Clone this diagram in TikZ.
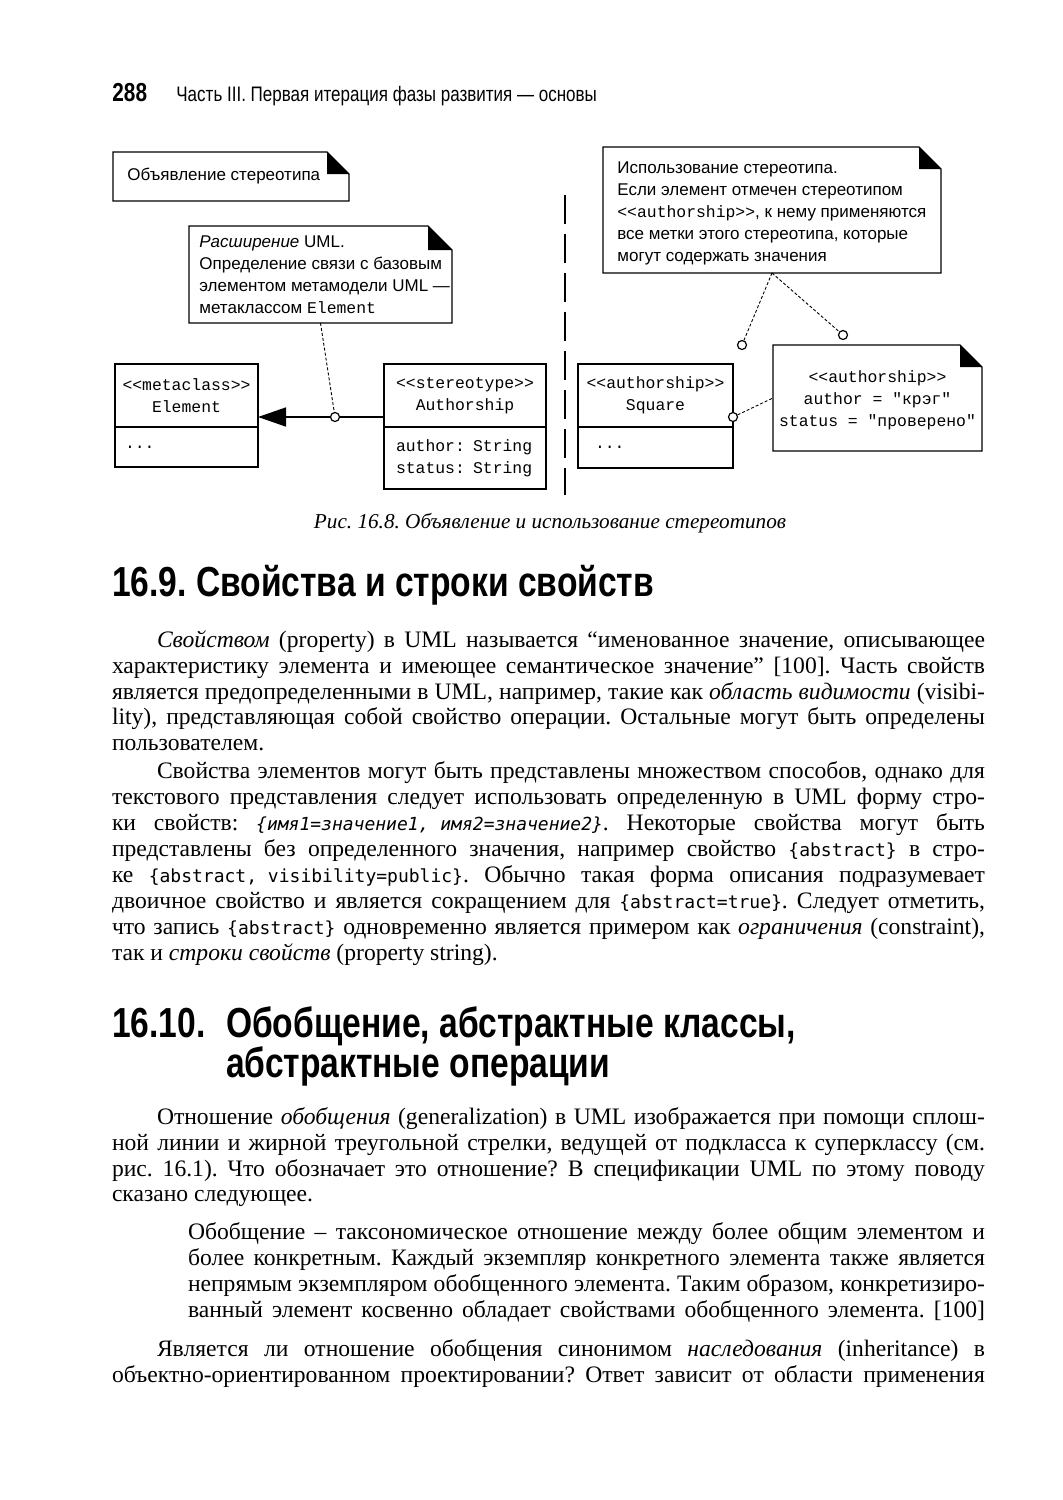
\documentclass[tikz,border=0pt]{standalone}
\usepackage{fontspec}
\setmainfont{Liberation Serif}
\setsansfont{Liberation Sans}
\setmonofont{Liberation Mono}
\newfontfamily\hfont[FakeStretch=0.8]{Liberation Sans}
\newfontfamily\rfont[FakeStretch=0.81]{Liberation Sans}
\newfontfamily\bodymono{DejaVu Sans Mono}
\usetikzlibrary{arrows.meta}

\newcommand\JF[1]{\makebox[436.5pt][s]{#1}}
\newcommand\JI[1]{\makebox[414pt][s]{#1}}
\newcommand\JQ[1]{\makebox[398.5pt][s]{#1}}
\newcommand\mc[1]{\mbox{\bodymono\fontsize{9}{13}\selectfont #1}}
\newcommand\mci[1]{\mbox{\bodymono\itshape\fontsize{9}{13}\selectfont #1}}
\newcommand\umono[1]{{\ttfamily\fontsize{8.2}{11}\selectfont #1}}
\newcommand\drawnote[2]{%
  \draw[line width=0.7pt] (#1.north west) -- ([xshift=-#2]#1.north east) -- ([yshift=-#2]#1.north east) -- (#1.south east) -- (#1.south west) -- cycle;
  \fill ([xshift=-#2]#1.north east) -- ([xshift=-#2,yshift=-#2]#1.north east) -- ([yshift=-#2]#1.north east) -- cycle;}

\begin{document}
\begin{tikzpicture}[x=0.5pt,y=-0.5pt,
  cls/.style={draw, line width=0.7pt, inner sep=0pt, outer sep=0pt, anchor=north west,
    font=\ttfamily\fontsize{8.2}{11}\selectfont},
  hdr/.style={cls, align=center},
  attr/.style={cls, align=left},
  notebox/.style={inner sep=0pt, outer sep=0pt, anchor=north west},
  notetext/.style={inner sep=0pt, anchor=west, align=left, font=\sffamily\fontsize{8.5}{11}\selectfont},
  ring/.style={circle, draw, line width=0.6pt, fill=white, inner sep=0pt, minimum size=4.5pt},
  conn/.style={line width=0.45pt, dash pattern=on 1.5pt off 1pt},
  gen/.style={line width=0.75pt},
  body/.style={inner sep=0pt, outer sep=0pt, anchor=mid west, font=\frenchspacing\fontsize{11.8}{13}\selectfont},
  head/.style={inner sep=0pt, outer sep=0pt, anchor=mid west, font=\frenchspacing\hfont\bfseries\fontsize{21}{24}\selectfont}
]
\useasboundingbox[fill=white] (0,0) rectangle (1063,1500);

% running head
\node[inner sep=0pt, anchor=mid west, font=\hfont\bfseries\fontsize{13}{15}\selectfont] (pnum) at (112,97) {288};
\node[inner sep=0pt, anchor=mid west, font=\frenchspacing\rfont\fontsize{10.5}{12}\selectfont] (run) at (176,97) {Часть III. Первая итерация фазы развития — основы};

% ---------- left part: declaration ----------
\node[notebox, minimum width=118pt, minimum height=24.5pt] (n1) at (113,152) {};
\drawnote{n1}{11pt}
\node[notetext] (n1t) at ([xshift=7pt]n1.west) {Объявление стереотипа};

\node[notebox, minimum width=131.5pt, minimum height=48.5pt] (n2) at (189,226) {};
\drawnote{n2}{12pt}
\node[notetext] (n2t) at ([xshift=5pt]n2.west) {\textit{Расширение} UML.\\Определение связи с базовым\\элементом метамодели UML —\\метаклассом \umono{Element}};

\node[hdr, minimum width=71.5pt, minimum height=31.5pt] (elemH) at (115,364) {<{}<metaclass>{}>\\Element};
\node[attr, minimum width=71.5pt, minimum height=20pt, text width=61.5pt, inner xsep=5pt] (elemB) at (elemH.south west) {...};

\node[hdr, minimum width=81pt, minimum height=31.5pt] (authH) at (384,364) {<{}<stereotype>{}>\\Authorship};
\node[attr, minimum width=81pt, minimum height=31pt, text width=69pt, inner xsep=6pt] (authB) at (authH.south west) {author: String\\status: String};

\node[ring] (c1) at (335,417) {};
\draw[gen] (authH.west |- c1) -- (c1.east);
\draw[gen,-{Triangle[length=14pt,width=9.5pt]}] (c1.west) -- (elemH.east |- c1);
\draw[conn] (n2.south) -- (c1);

% separator
\draw[line width=1.4pt, dash pattern=on 14.5pt off 5pt] (565,195) -- (565,495);

% ---------- right part: usage ----------
\node[notebox, minimum width=169pt, minimum height=63pt] (n3) at (603,147) {};
\drawnote{n3}{11pt}
\node[notetext] (n3t) at ([xshift=7pt,yshift=-1.75pt]n3.west) {Использование стереотипа.\\Если элемент отмечен стереотипом\\\umono{<{}<authorship>{}>}, к нему применяются\\все метки этого стереотипа, которые\\могут содержать значения};

\node[hdr, minimum width=77.5pt, minimum height=31.5pt] (sqH) at (578,364) {<{}<authorship>{}>\\Square};
\node[attr, minimum width=77.5pt, minimum height=20.5pt, text width=60.5pt, inner xsep=8.5pt] (sqB) at (sqH.south west) {...};

\node[notebox, minimum width=104.5pt, minimum height=53pt] (n4) at (773,345) {};
\drawnote{n4}{11pt}
\node[inner sep=0pt, align=center, font=\ttfamily\fontsize{8.2}{11}\selectfont] (n4t) at ([yshift=-1pt]n4.center) {<{}<authorship>{}>\\author = "крэг"\\status = "проверено"};

\node[ring] (c2) at (742,345) {};
\node[ring] (c3) at (843,335) {};
\node[ring] (c4) at (733,417) {};
\draw[conn] (n3.south) -- (c2);
\draw[conn] (n3.south) -- (c3);
\draw[conn] (c4) -- (n4.west);

% caption
\node[inner sep=0pt, anchor=mid, font=\frenchspacing\itshape\fontsize{10.6}{12}\selectfont] (cap) at (550,524) {Рис. 16.8. Объявление и использование стереотипов};

% ---------- section 16.9 ----------
\node[head] (h1) at (112,592) {16.9. Свойства и строки свойств};

\node[body] (p1a) at (157,643) {\JI{\textit{Свойством} (property) в UML называется “именованное значение, описывающее}};
\node[body] (p1b) at (112,669) {\JF{характеристику элемента и имеющее семантическое значение” [100]. Часть свойств}};
\node[body] (p1c) at (112,695) {\JF{является предопределенными в UML, например, такие как \textit{область видимости} (visibi-}};
\node[body] (p1d) at (112,720) {\JF{lity), представляющая собой свойство операции. Остальные могут быть определены}};
\node[body] (p1e) at (112,746) {пользователем.};

\node[body] (p2a) at (157,774) {\JI{Свойства элементов могут быть представлены множеством способов, однако для}};
\node[body] (p2b) at (112,800) {\JF{текстового представления следует использовать определенную в UML форму стро-}};
\node[body] (p2c) at (112,826) {\JF{ки свойств: \mci{\{имя1=значение1, имя2=значение2\}}. Некоторые свойства могут быть}};
\node[body] (p2d) at (112,852) {\JF{представлены без определенного значения, например свойство \mc{\{abstract\}} в стро-}};
\node[body] (p2e) at (112,878) {\JF{ке \mc{\{abstract, visibility=public\}}. Обычно такая форма описания подразумевает}};
\node[body] (p2f) at (112,904) {\JF{двоичное свойство и является сокращением для \mc{\{abstract=true\}}. Следует отметить,}};
\node[body] (p2g) at (112,930) {\JF{что запись \mc{\{abstract\}} одновременно является примером как \textit{ограничения} (constraint),}};
\node[body] (p2h) at (112,956) {так и \textit{строки свойств} (property string).};

% ---------- section 16.10 ----------
\node[head] (h2n) at (112,1033) {16.10.};
\node[head] (h2a) at (226,1033) {Обобщение, абстрактные классы,};
\node[head] (h2b) at (h2a.west |- 0,1073) {абстрактные операции};

\node[body] (p3a) at (157,1120) {\JI{Отношение \textit{обобщения} (generalization) в UML изображается при помощи сплош-}};
\node[body] (p3b) at (112,1146) {\JF{ной линии и жирной треугольной стрелки, ведущей от подкласса к суперклассу (см.}};
\node[body] (p3c) at (112,1172) {\JF{рис. 16.1). Что обозначает это отношение? В спецификации UML по этому поводу}};
\node[body] (p3d) at (112,1197) {сказано следующее.};

\node[body] (q1) at (188,1235) {\JQ{Обобщение – таксономическое отношение между более общим элементом и}};
\node[body] (q2) at (188,1261) {\JQ{более конкретным. Каждый экземпляр конкретного элемента также является}};
\node[body] (q3) at (188,1287) {\JQ{непрямым экземпляром обобщенного элемента. Таким образом, конкретизиро-}};
\node[body] (q4) at (188,1313) {\JQ{ванный элемент косвенно обладает свойствами обобщенного элемента. [100]}};

\node[body] (p4a) at (157,1352) {\JI{Является ли отношение обобщения синонимом \textit{наследования} (inheritance) в}};
\node[body] (p4b) at (112,1378) {\JF{объектно-ориентированном проектировании? Ответ зависит от области применения}};
\end{tikzpicture}
\end{document}
